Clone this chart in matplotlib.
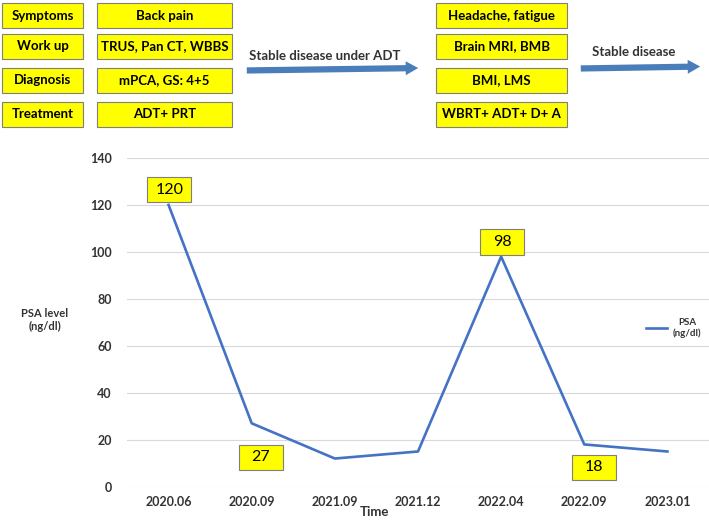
import matplotlib.pyplot as plt
from matplotlib.patches import Rectangle

plt.rcParams['font.family'] = ['Lato', 'DejaVu Sans']

dates = ['2020.06', '2020.09', '2021.09', '2021.12', '2022.04', '2022.09', '2023.01']
psa = [120, 27, 12, 15, 98, 18, 15]

# labelled points: index, box offset (x in categories, y in data units)
labelled = [0, 1, 4, 5]
label_dx = [0.01, 0.11, 0.01, 0.12]
label_dy = [6.4, -14.5, 6.2, -9.8]

row_titles = ['Symptoms', 'Work up', 'Diagnosis', 'Treatment']
first_visit = ['Back pain', 'TRUS, Pan CT, WBBS', 'mPCA, GS: 4+5', 'ADT+ PRT']
second_visit = ['Headache, fatigue', 'Brain MRI, BMB', 'BMI, LMS', 'WBRT+ ADT+ D+ A']

blue = '#4472C4'
arrow_blue = '#4A7EBB'
text_col = '#333333'

fig = plt.figure(figsize=(7.09, 5.2), dpi=100)
ax = fig.add_axes([127 / 709, 1 - 486.7 / 520, 582 / 709, (486.7 - 158) / 520])

x = list(range(len(dates)))
ax.plot(x, psa, color=blue, lw=1.9, label='PSA\n(ng/dl)', zorder=3)
ax.set_xlim(-0.5, 6.5)
ax.set_ylim(0, 140)
ax.set_yticks(range(0, 141, 20))
ax.set_xticks(x)
ax.set_xticklabels(dates)
ax.grid(axis='y', color='#d9d9d9', lw=0.8)
ax.set_axisbelow(True)
for s in ax.spines.values():
    s.set_visible(False)
ax.tick_params(length=0, labelsize=9, labelcolor=text_col)
ax.tick_params(axis='y', pad=11)
ax.tick_params(axis='x', pad=7)
for t in ax.get_xticklabels() + ax.get_yticklabels():
    t.set_fontweight('bold')

ax.set_xlabel('Time', fontsize=9.5, fontweight='bold', color=text_col, va='center')
ax.xaxis.set_label_coords((374 - 127) / 582, (486.7 - 512) / 328.7)
fig.text(45 / 709, 1 - 320 / 520, 'PSA level\n(ng/dl)', ha='center', va='center',
         fontsize=8, fontweight='bold', color=text_col, linespacing=1.3)

bw, bh = 0.53, 10.7
for i, dx, dy in zip(labelled, label_dx, label_dy):
    cx, cy = x[i] + dx, psa[i] + dy
    ax.add_patch(Rectangle((cx - bw / 2, cy - bh / 2), bw, bh, facecolor='#FFFF00',
                           edgecolor='#7f7f7f', lw=0.8, zorder=4))
    ax.text(cx, cy, str(psa[i]), ha='center', va='center', fontsize=11.5,
            color='black', zorder=5)

leg = ax.legend(loc='center left', bbox_to_anchor=(510 / 582, 1 - (328 - 158) / 328.7),
                frameon=False, fontsize=7, handlelength=2.2, handletextpad=0.6)
for t in leg.get_texts():
    t.set_multialignment('center')
    t.set_color(text_col)
    t.set_fontweight('bold')

# flow diagram on top, drawn in pixel coordinates
top = fig.add_axes([0, 0, 1, 1])
top.set_xlim(0, 709)
top.set_ylim(520, 0)
top.axis('off')

rows_y = [3, 34, 68, 102]
columns = [(2, 81, row_titles), (97, 135, first_visit), (436, 131, second_visit)]
for left, width, texts in columns:
    for ry, txt in zip(rows_y, texts):
        top.add_patch(Rectangle((left, ry), width, 25, facecolor='#FFFF00',
                                edgecolor='#7f7f7f', lw=0.8))
        top.text(left + width / 2, ry + 12.5, txt, ha='center', va='center',
                 fontsize=9.5, fontweight='bold', color='black')

style = 'simple,head_length=0.9,head_width=1.0,tail_width=0.45'
top.annotate('', xy=(421, 68), xytext=(244, 70.5),
             arrowprops=dict(arrowstyle=style, color=arrow_blue, lw=0))
top.annotate('', xy=(703, 66.5), xytext=(578, 68.5),
             arrowprops=dict(arrowstyle=style, color=arrow_blue, lw=0))
top.text(325, 56, 'Stable disease under ADT', ha='center', va='center',
         fontsize=9.5, fontweight='bold', color=text_col)
top.text(634, 52, 'Stable disease', ha='center', va='center',
         fontsize=9.5, fontweight='bold', color=text_col)

fig.savefig('out.png', dpi=100)
